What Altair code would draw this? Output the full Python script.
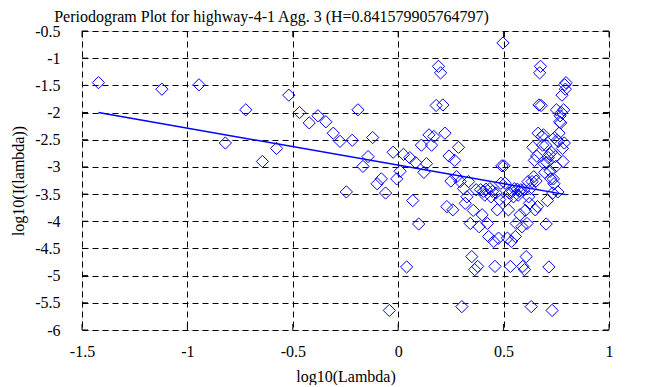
import altair as alt
import pandas as pd

# log10(lambda) of each periodogram point
x_vals = [
    -1.422, -1.121, -0.945, -0.820, -0.723, -0.644, -0.577, -0.519, -0.468, -0.422,
    -0.381, -0.343, -0.308, -0.276, -0.246, -0.218, -0.191, -0.167, -0.143, -0.121,
    -0.100, -0.080, -0.060, -0.042, -0.024, -0.007, 0.009, 0.025, 0.040, 0.055,
    0.069, 0.083, 0.097, 0.110, 0.122, 0.134, 0.146, 0.158, 0.169, 0.180,
    0.191, 0.201, 0.212, 0.222, 0.231, 0.241, 0.250, 0.259, 0.268, 0.277,
    0.286, 0.294, 0.302, 0.310, 0.318, 0.326, 0.334, 0.342, 0.349, 0.356,
    0.363, 0.370, 0.377, 0.384, 0.391, 0.398, 0.404, 0.411, 0.417, 0.423,
    0.429, 0.435, 0.441, 0.447, 0.453, 0.459, 0.465, 0.470, 0.476, 0.481,
    0.487, 0.492, 0.497, 0.502, 0.507, 0.513, 0.518, 0.523, 0.527, 0.532,
    0.537, 0.542, 0.547, 0.551, 0.556, 0.560, 0.565, 0.569, 0.574, 0.578,
    0.582, 0.587, 0.591, 0.595, 0.599, 0.603, 0.607, 0.611, 0.616, 0.619,
    0.623, 0.627, 0.631, 0.635, 0.639, 0.643, 0.646, 0.650, 0.654, 0.657,
    0.661, 0.664, 0.668, 0.671, 0.675, 0.678, 0.682, 0.685, 0.689, 0.692,
    0.695, 0.699, 0.702, 0.705, 0.708, 0.712, 0.715, 0.718, 0.721, 0.724,
    0.727, 0.730, 0.733, 0.736, 0.739, 0.742, 0.745, 0.748, 0.751, 0.754,
    0.757, 0.760, 0.763, 0.766, 0.768, 0.771, 0.774, 0.777, 0.779, 0.782,
    0.785, 0.788, 0.790, 0.793, 0.796,
]

# log10(I(lambda)) of each periodogram point
y_vals = [
    -1.45, -1.57, -1.49, -2.56, -1.95, -2.90, -2.66, -1.68, -2.00, -2.19,
    -2.06, -2.17, -2.38, -2.53, -3.46, -2.51, -1.95, -2.99, -2.81, -2.46,
    -3.31, -3.22, -3.48, -5.64, -2.73, -3.22, -3.08, -2.77, -4.84, -2.83,
    -3.62, -2.92, -4.05, -2.60, -3.10, -2.94, -2.41, -2.60, -2.44, -1.87,
    -1.15, -1.27, -1.86, -2.38, -3.73, -2.80, -3.26, -3.79, -2.88, -3.18,
    -2.64, -3.27, -5.57, -3.40, -3.67, -3.55, -3.27, -4.04, -4.65, -3.80,
    -4.89, -3.42, -4.83, -4.10, -3.42, -3.88, -3.45, -3.52, -3.41, -4.04,
    -4.28, -3.40, -3.55, -3.45, -4.37, -4.83, -3.48, -3.79, -4.31, -3.60,
    -3.30, -2.98, -0.72, -2.98, -3.30, -3.60, -4.31, -3.79, -3.48, -4.83,
    -4.37, -3.45, -3.55, -3.40, -4.28, -4.04, -3.41, -3.52, -3.45, -3.88,
    -3.42, -4.10, -4.83, -3.42, -4.89, -3.80, -4.65, -4.04, -3.27, -3.55,
    -3.67, -3.40, -5.57, -3.27, -2.64, -3.18, -2.88, -3.79, -3.26, -2.80,
    -3.73, -2.38, -1.86, -1.27, -1.15, -1.87, -2.44, -2.60, -2.41, -2.94,
    -3.10, -2.60, -4.05, -2.92, -3.62, -2.83, -4.84, -2.77, -3.08, -3.22,
    -2.73, -5.64, -3.48, -3.22, -3.31, -2.46, -2.81, -2.99, -1.95, -2.51,
    -3.46, -2.53, -2.38, -2.17, -2.06, -2.19, -2.00, -1.68, -2.66, -2.90,
    -1.95, -2.56, -1.49, -1.57, -1.45,
]

# fitted regression line end points
fit_x = [-1.422, 0.796]
fit_y = [-2.00, -3.51]

x_ticks = [-1.5, -1, -0.5, 0, 0.5, 1]
y_ticks = [-6, -5.5, -5, -4.5, -4, -3.5, -3, -2.5, -2, -1.5, -1, -0.5]

TITLE = "Periodogram Plot for highway-4-1 Agg. 3 (H=0.841579905764797)"
W, H = 527, 299
FONT = "Liberation Serif"
BLUE = "#0000ff"

pts = pd.DataFrame({"x": x_vals, "y": y_vals})
fit = pd.DataFrame({"x": fit_x, "y": fit_y})
xt = pd.DataFrame({"x": x_ticks})
yt = pd.DataFrame({"y": y_ticks})

xscale = alt.Scale(domain=[-1.5, 1], nice=False, zero=False)
yscale = alt.Scale(domain=[-6, -0.5], nice=False, zero=False)

xaxis = alt.Axis(
    values=x_ticks, grid=True, gridDash=[6, 4], gridColor="black", gridOpacity=1,
    gridWidth=1, ticks=False, tickSize=0, domain=False,
    labelFont=FONT, labelFontSize=16, labelColor="black", labelPadding=13,
    labelExpr="'' + datum.value", labelFlush=False, labelOverlap=False,
    title="log10(Lambda)", titleFont=FONT, titleFontSize=16, titleFontWeight="normal",
    titleColor="black", titleX=W / 2, titleY=46, titleBaseline="middle", titleAlign="center",
)
yaxis = alt.Axis(
    values=y_ticks, grid=True, gridDash=[6, 4], gridColor="black", gridOpacity=1,
    gridWidth=1, ticks=False, tickSize=0, domain=False,
    labelFont=FONT, labelFontSize=16, labelColor="black", labelPadding=22,
    labelExpr="'' + datum.value", labelFlush=False, labelOverlap=False,
    title="log10(I(lambda))", titleFont=FONT, titleFontSize=16, titleFontWeight="normal",
    titleColor="black", titleX=-64, titleY=H / 2, titleAngle=270,
    titleBaseline="middle", titleAlign="center",
)

X = alt.X("x:Q", scale=xscale, axis=xaxis)
Y = alt.Y("y:Q", scale=yscale, axis=yaxis)

points = alt.Chart(pts).mark_point(
    shape="diamond", filled=False, color=BLUE, size=150, strokeWidth=1, opacity=1
).encode(x=X, y=Y)

line = alt.Chart(fit).mark_line(color=BLUE, strokeWidth=1.5).encode(x=X, y=Y)

tick_bottom = alt.Chart(xt).mark_rule(color="black", strokeWidth=1).encode(
    x=X, y=alt.value(H), y2=alt.value(H - 6)
)
tick_top = alt.Chart(xt).mark_rule(color="black", strokeWidth=1).encode(
    x=X, y=alt.value(0), y2=alt.value(6)
)
tick_left = alt.Chart(yt).mark_rule(color="black", strokeWidth=1).encode(
    y=Y, x=alt.value(0), x2=alt.value(6)
)
tick_right = alt.Chart(yt).mark_rule(color="black", strokeWidth=1).encode(
    y=Y, x=alt.value(W - 6), x2=alt.value(W)
)

chart = alt.layer(
    points, line, tick_bottom, tick_top, tick_left, tick_right
).properties(
    width=W,
    height=H,
    title=alt.Title(
        TITLE, font=FONT, fontSize=16, fontWeight="normal", color="black",
        anchor="middle", frame="group", dx=-74, dy=15, offset=0, baseline="alphabetic",
    ),
    autosize=alt.AutoSizeParams(type="none"),
    padding={"left": 74, "top": 23, "right": 40, "bottom": 55},
).configure_view(
    stroke="black", strokeWidth=2
).configure(
    background="white"
)

chart.save("out.html", embed_options={"renderer": "svg", "actions": False})
